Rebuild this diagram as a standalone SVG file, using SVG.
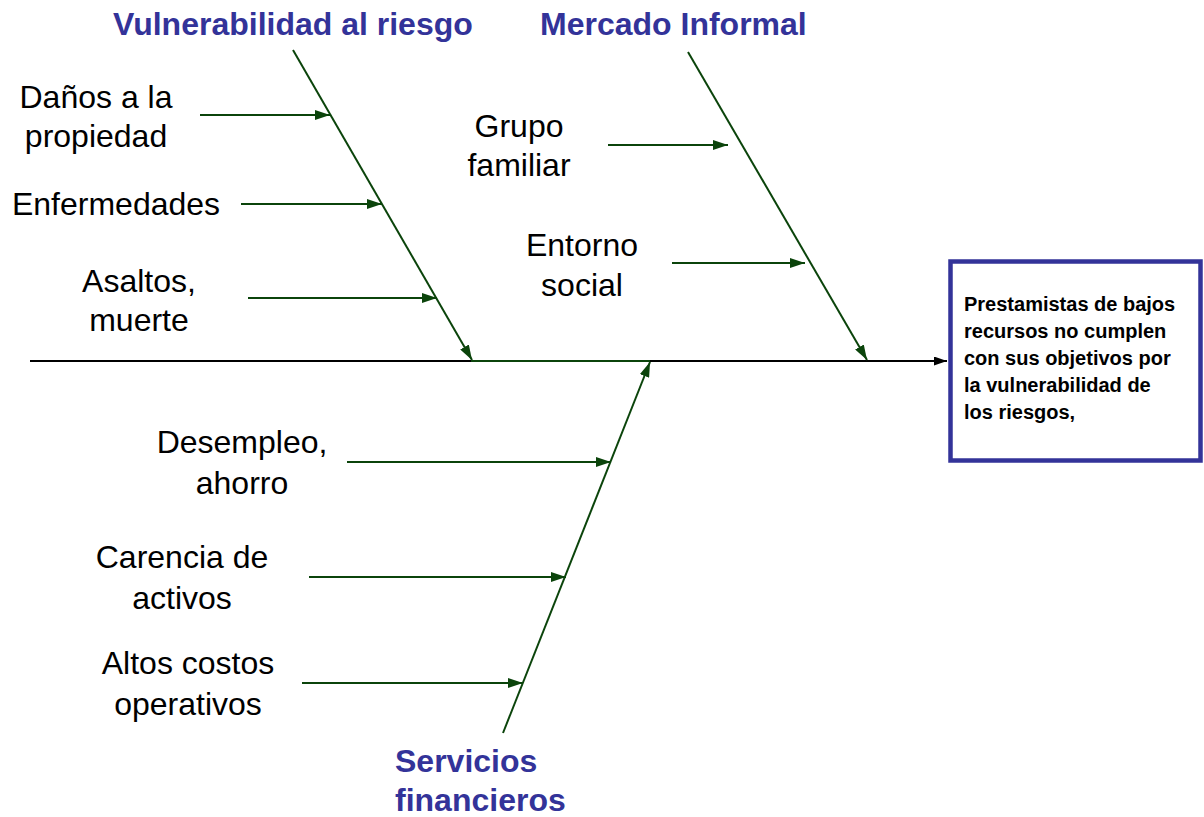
<svg xmlns="http://www.w3.org/2000/svg" width="1204" height="817" viewBox="0 0 1204 817">
<defs>
<marker id="ag" markerUnits="userSpaceOnUse" markerWidth="15" markerHeight="10" refX="15" refY="5" orient="auto">
<path d="M0,0 L15,5 L0,10 z" fill="#0b440b"/>
</marker>
<marker id="ab" markerUnits="userSpaceOnUse" markerWidth="13" markerHeight="9" refX="13" refY="4.5" orient="auto">
<path d="M0,0 L13,4.5 L0,9 z" fill="#000"/>
</marker>
<style>
.lbl{font-family:"Liberation Sans",Arial,sans-serif;font-size:32px;fill:#000;text-anchor:middle}
.ttl{font-family:"Liberation Sans",Arial,sans-serif;font-size:32px;font-weight:bold;fill:#333399}
.box{font-family:"Liberation Sans",Arial,sans-serif;font-size:20px;font-weight:bold;fill:#000}
.g{stroke:#0b440b;stroke-width:2;fill:none}
</style>
</defs>
<rect width="1204" height="817" fill="#fff"/>
<g id="connectors">
<line x1="30" y1="361" x2="947" y2="361" stroke="#000" stroke-width="2" marker-end="url(#ab)"/>
<line x1="471" y1="361" x2="650" y2="361" class="g"/>
<line x1="293" y1="50" x2="472" y2="360" class="g" marker-end="url(#ag)"/>
<line x1="688" y1="52" x2="867" y2="360" class="g" marker-end="url(#ag)"/>
<line x1="503" y1="733" x2="650" y2="362" class="g" marker-end="url(#ag)"/>
<line x1="200" y1="115" x2="330" y2="115" class="g" marker-end="url(#ag)"/>
<line x1="241" y1="204" x2="382" y2="204" class="g" marker-end="url(#ag)"/>
<line x1="248" y1="298" x2="437" y2="298" class="g" marker-end="url(#ag)"/>
<line x1="608" y1="145" x2="728" y2="145" class="g" marker-end="url(#ag)"/>
<line x1="672" y1="263" x2="805" y2="263" class="g" marker-end="url(#ag)"/>
<line x1="347" y1="462" x2="611" y2="462" class="g" marker-end="url(#ag)"/>
<line x1="309" y1="577" x2="566" y2="577" class="g" marker-end="url(#ag)"/>
<line x1="302" y1="683" x2="523" y2="683" class="g" marker-end="url(#ag)"/>
</g>
<g id="title-vulnerabilidad"><text class="ttl" x="113" y="35">Vulnerabilidad al riesgo</text></g>
<g id="title-mercado"><text class="ttl" x="540" y="35">Mercado Informal</text></g>
<g id="title-servicios"><text class="ttl" x="395" y="772">Servicios</text><text class="ttl" x="395" y="811">financieros</text></g>
<g id="danos"><text class="lbl" x="96" y="108">Daños a la</text><text class="lbl" x="96" y="147">propiedad</text></g>
<g id="enfermedades"><text class="lbl" x="116" y="215">Enfermedades</text></g>
<g id="asaltos"><text class="lbl" x="139" y="292">Asaltos,</text><text class="lbl" x="139" y="331">muerte</text></g>
<g id="grupo"><text class="lbl" x="519" y="137">Grupo</text><text class="lbl" x="519" y="176">familiar</text></g>
<g id="entorno"><text class="lbl" x="582" y="256">Entorno</text><text class="lbl" x="582" y="296">social</text></g>
<g id="desempleo"><text class="lbl" x="242" y="453">Desempleo,</text><text class="lbl" x="242" y="494">ahorro</text></g>
<g id="carencia"><text class="lbl" x="182" y="568">Carencia de</text><text class="lbl" x="182" y="609">activos</text></g>
<g id="altos"><text class="lbl" x="188" y="674">Altos costos</text><text class="lbl" x="188" y="715">operativos</text></g>
<g id="efecto">
<rect x="950.5" y="261.5" width="250" height="199" fill="#fff" stroke="#333399" stroke-width="4.5"/>
<text class="box" x="964" y="311">Prestamistas de bajos</text>
<text class="box" x="964" y="338">recursos no cumplen</text>
<text class="box" x="964" y="365">con sus objetivos por</text>
<text class="box" x="964" y="392">la vulnerabilidad de</text>
<text class="box" x="964" y="419">los riesgos,</text>
</g>
</svg>
